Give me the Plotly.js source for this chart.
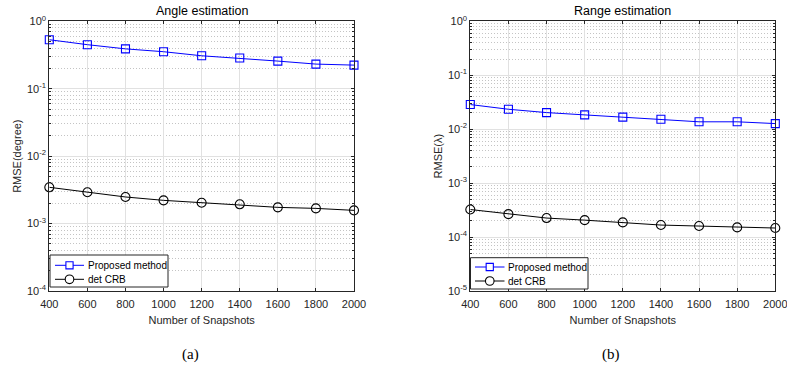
<!DOCTYPE html>
<html>
<head>
<meta charset="utf-8">
<script src="https://cdn.plot.ly/plotly-3.0.1.min.js"></script>
<style>html,body{margin:0;padding:0;background:#fff;}#chart{width:787px;height:373px;}</style>
</head>
<body>
<div id="chart"></div>
<script>
const snapshots = [400, 600, 800, 1000, 1200, 1400, 1600, 1800, 2000];
const angleProposed = [0.533, 0.45, 0.39, 0.354, 0.308, 0.285, 0.257, 0.232, 0.224];
const angleCRB = [0.00345, 0.00291, 0.00248, 0.00221, 0.00204, 0.00193, 0.00174, 0.00168, 0.00157];
const rangeProposed = [0.0286, 0.0234, 0.0203, 0.0184, 0.0167, 0.0153, 0.0137, 0.0137, 0.0127];
const rangeCRB = [3.24e-4, 2.66e-4, 2.25e-4, 2.06e-4, 1.87e-4, 1.67e-4, 1.60e-4, 1.51e-4, 1.47e-4];
const seriesNames = ['Proposed method', 'det CRB'];
const xTicks = [400, 600, 800, 1000, 1200, 1400, 1600, 1800, 2000];
const yTicksA = [1e-4, 1e-3, 1e-2, 1e-1, 1];
const yTextA = ['10<sup>-4</sup>', '10<sup>-3</sup>', '10<sup>-2</sup>', '10<sup>-1</sup>', '10<sup>0</sup>'];
const yTicksB = [1e-5, 1e-4, 1e-3, 1e-2, 1e-1, 1];
const yTextB = ['10<sup>-5</sup>', '10<sup>-4</sup>', '10<sup>-3</sup>', '10<sup>-2</sup>', '10<sup>-1</sup>', '10<sup>0</sup>'];

const W = 787, H = 373;
const FONT = 'Liberation Sans';
const AX = '#262626';
const COLORS = ['#0000ff', '#000000'];
const SYMBOLS = ['square-open', 'circle-open'];

function mk(y, i, xa, ya) {
  return {
    x: snapshots, y: y, name: seriesNames[i], type: 'scatter', mode: 'lines+markers',
    xaxis: xa, yaxis: ya, cliponaxis: false, showlegend: false,
    line: {color: COLORS[i], width: 1},
    marker: {symbol: SYMBOLS[i], size: i === 0 ? 8 : 9, color: COLORS[i], line: {width: 1.1}}
  };
}

const data = [
  mk(angleProposed, 0, 'x', 'y'),
  mk(angleCRB, 1, 'x', 'y'),
  mk(rangeProposed, 0, 'x2', 'y2'),
  mk(rangeCRB, 1, 'x2', 'y2')
];

const yTop = 1 - 21.3 / H, yBot = 1 - 291 / H;

function xax(dom, anchor) {
  return {
    domain: dom, anchor: anchor, range: [400, 2000], tickvals: xTicks,
    showline: true, mirror: 'ticks', linecolor: AX, linewidth: 1,
    ticks: 'inside', ticklen: 3, tickcolor: AX, ticklabeloverflow: 'allow', ticklabelstandoff: 3,
    showgrid: true, gridcolor: '#e1e1e1', gridwidth: 1, zeroline: false,
    tickfont: {family: FONT, size: 11, color: AX},
    title: {text: 'Number of Snapshots', font: {family: FONT, size: 11, color: AX}, standoff: 7}
  };
}
function yax(anchor, lo, tv, tt, title) {
  return {
    domain: [yBot, yTop], anchor: anchor, type: 'log', range: [lo, 0],
    tickvals: tv, ticktext: tt,
    showline: true, mirror: 'ticks', linecolor: AX, linewidth: 1,
    ticks: 'inside', ticklen: 3, tickcolor: AX,
    showgrid: true, gridcolor: '#e1e1e1', gridwidth: 1, zeroline: false,
    minor: {dtick: 'D1', showgrid: true, gridcolor: '#c4c4c4', griddash: '1px,2px', gridwidth: 1,
            ticks: 'inside', ticklen: 2, tickcolor: AX},
    tickfont: {family: FONT, size: 11, color: AX},
    title: {text: title, font: {family: FONT, size: 11, color: AX}, standoff: 3}
  };
}

// compact MATLAB-style legend, built from the series names and colours
const shapes = [], annotations = [];
function legendBox(x0, y0, x1, y1, rows, lineX0, lineX1, textX) {
  shapes.push({type: 'rect', xref: 'paper', yref: 'paper', x0: x0 / W, x1: x1 / W, y0: 1 - y1 / H, y1: 1 - y0 / H,
               line: {color: AX, width: 1}, fillcolor: '#ffffff', layer: 'above'});
  seriesNames.forEach((nm, i) => {
    const yy = rows[i];
    const mx = (lineX0 + lineX1) / 2;
    shapes.push({type: 'line', xref: 'paper', yref: 'paper', x0: lineX0 / W, x1: lineX1 / W, y0: 1 - yy / H, y1: 1 - yy / H,
                 line: {color: COLORS[i], width: 1}, layer: 'above'});
    const r = i === 0 ? 3.6 : 4.3;
    shapes.push({type: i === 0 ? 'rect' : 'circle', xref: 'paper', yref: 'paper',
                 x0: (mx - r) / W, x1: (mx + r) / W, y0: 1 - (yy + r) / H, y1: 1 - (yy - r) / H,
                 line: {color: COLORS[i], width: 1.1}, fillcolor: '#ffffff', layer: 'above'});
    annotations.push({text: nm, xref: 'paper', yref: 'paper', x: textX / W, y: 1 - yy / H, showarrow: false,
                      xanchor: 'left', yanchor: 'middle', font: {family: FONT, size: 10, color: '#000'}});
  });
}
legendBox(50, 255, 168, 287, [265.3, 279.3], 55, 84, 85.5);
legendBox(470.5, 257.7, 588, 289, [267, 281], 475, 504.5, 506);

annotations.push(
  {text: 'Angle estimation', x: 201.7 / W, y: 1 - 11 / H, xref: 'paper', yref: 'paper',
   showarrow: false, xanchor: 'center', yanchor: 'middle', font: {family: FONT, size: 12.5, color: '#000'}},
  {text: 'Range estimation', x: 622.8 / W, y: 1 - 11 / H, xref: 'paper', yref: 'paper',
   showarrow: false, xanchor: 'center', yanchor: 'middle', font: {family: FONT, size: 12.5, color: '#000'}},
  {text: '(a)', x: 190.7 / W, y: 1 - 354 / H, xref: 'paper', yref: 'paper',
   showarrow: false, xanchor: 'center', yanchor: 'middle', font: {family: 'Liberation Serif', size: 15, color: '#000'}},
  {text: '(b)', x: 610.7 / W, y: 1 - 354 / H, xref: 'paper', yref: 'paper',
   showarrow: false, xanchor: 'center', yanchor: 'middle', font: {family: 'Liberation Serif', size: 15, color: '#000'}}
);

const layout = {
  width: W, height: H, margin: {l: 0, r: 0, t: 0, b: 0},
  paper_bgcolor: '#fff', plot_bgcolor: '#fff', showlegend: false,
  xaxis: xax([49.3 / W, 354 / W], 'y'),
  yaxis: yax('x', -4, yTicksA, yTextA, 'RMSE(degree)'),
  xaxis2: xax([470.3 / W, 775.3 / W], 'y2'),
  yaxis2: yax('x2', -5, yTicksB, yTextB, 'RMSE(λ)'),
  shapes: shapes,
  annotations: annotations
};

Plotly.newPlot('chart', data, layout, {staticPlot: true, displayModeBar: false});
</script>
</body>
</html>
